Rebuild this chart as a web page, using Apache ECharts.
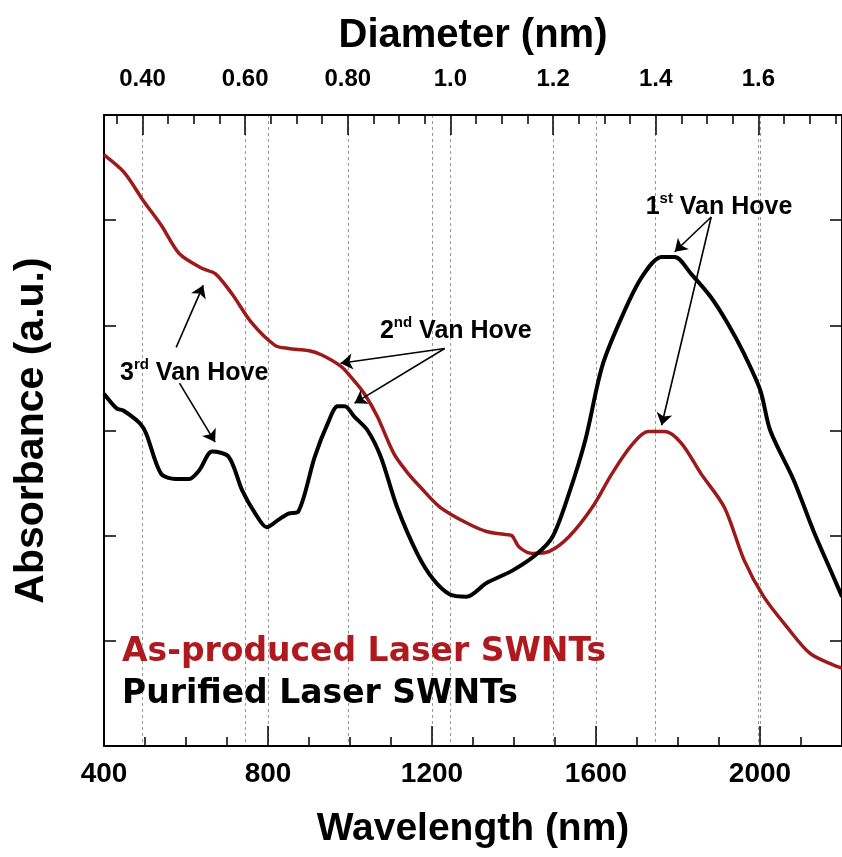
<!DOCTYPE html>
<html><head><meta charset="utf-8">
<script src="https://cdn.jsdelivr.net/npm/echarts@6/dist/echarts.min.js"></script>
<style>html,body{margin:0;padding:0;background:#fff}#c{width:842px;height:857px}</style>
</head><body><div id="c"></div>
<script>
// Wavelength (nm) and absorbance (a.u.)
const asProducedWavelength = [400,450,495,540,584,640,672,712,761,817,850,898,930,978,1002,1035,1067,1107,1140,1172,1220,1285,1333,1381,1395,1413,1446,1486,1534,1591,1639,1687,1727,1768,1808,1856,1913,1961,2009,2066,2122,2179,2200];
const asProducedAbsorbance = [5.62,5.45,5.19,4.95,4.68,4.54,4.49,4.30,4.02,3.81,3.78,3.76,3.72,3.61,3.51,3.35,3.13,2.78,2.60,2.46,2.27,2.12,2.04,2.01,2.00,1.89,1.83,1.85,1.99,2.27,2.59,2.86,2.99,2.99,2.88,2.59,2.27,1.77,1.42,1.13,0.88,0.77,0.74];
const purifiedWavelength = [400,431,447,487,503,539,575,608,632,664,704,737,769,797,825,850,874,914,946,970,987,1011,1043,1075,1115,1164,1204,1244,1284,1333,1397,1454,1494,1534,1574,1615,1663,1712,1760,1792,1832,1880,1921,1961,2001,2025,2082,2130,2179,2200];
const purifiedAbsorbance = [3.35,3.21,3.19,3.07,2.97,2.59,2.54,2.54,2.62,2.80,2.75,2.43,2.21,2.08,2.15,2.21,2.23,2.75,3.07,3.23,3.23,3.13,3.00,2.75,2.27,1.83,1.58,1.44,1.42,1.55,1.67,1.82,1.99,2.40,2.91,3.61,4.08,4.46,4.65,4.65,4.49,4.27,4.02,3.73,3.38,3.00,2.53,2.05,1.61,1.42];

const seriesNames = ['As-produced Laser SWNTs', 'Purified Laser SWNTs'];

// Top (diameter) axis
const diameterTicks = [0.4, 0.6, 0.8, 1.0, 1.2, 1.4, 1.6];
const diameterLabels = ['0.40', '0.60', '0.80', '1.0', '1.2', '1.4', '1.6'];
const diameterMinorTicks = [0.35, 0.45, 0.5, 0.55, 0.65, 0.7, 0.75, 0.85, 0.9, 0.95, 1.05, 1.1, 1.15, 1.25, 1.3, 1.35, 1.45, 1.5, 1.55, 1.65, 1.7, 1.75];

// Annotations: [wavelength, absorbance]
const vanHoveTexts = [
  { base: '3', sup: 'rd', at: [620, 3.56] },
  { base: '2', sup: 'nd', at: [1258, 3.96] },
  { base: '1', sup: 'st', at: [1900, 5.14] }
];
const vanHoveArrows = [
  [[576, 3.79], [642, 4.38]],
  [[584, 3.45], [671, 2.89]],
  [[1231, 3.78], [977, 3.64]],
  [[1231, 3.78], [1011, 3.26]],
  [[1881, 5.03], [1792, 4.70]],
  [[1881, 5.03], [1760, 3.05]]
];

const FONT = "'Liberation Sans', Arial, Helvetica, sans-serif";
const RED = '#9c1a1a';
const zip = (a, b) => a.map((v, i) => [v, b[i]]);

const chart = echarts.init(document.getElementById('c'), null, { renderer: 'canvas' });
const dash = { color: '#999', width: 1, type: [3, 3] };
const gridRect = { left: 104, right: -7, top: 115, bottom: 111, containLabel: false };
const tickLine = { color: '#000', width: 1.5 };

chart.setOption({
  animation: false,
  backgroundColor: '#fff',
  grid: [Object.assign({}, gridRect), Object.assign({}, gridRect)],
  legend: {
    orient: 'vertical', left: 112, top: 631, itemGap: 9, itemWidth: 0, itemHeight: 0,
    selectedMode: false,
    textStyle: { fontFamily: "'DejaVu Sans', sans-serif", fontWeight: 'bold', fontSize: 33 },
    data: [
      { name: seriesNames[0], icon: 'none', textStyle: { color: '#ae1a1f' } },
      { name: seriesNames[1], icon: 'none', textStyle: { color: '#000' } }
    ]
  },
  xAxis: [
    {
      gridIndex: 0, type: 'value', position: 'bottom', min: 400, max: 2200, interval: 400,
      name: 'Wavelength (nm)', nameLocation: 'middle', nameGap: 64,
      nameTextStyle: { fontFamily: FONT, fontWeight: 'bold', fontSize: 39, color: '#000' },
      axisLine: { onZero: false, lineStyle: { color: '#000', width: 2 } },
      axisTick: { inside: true, length: 20, lineStyle: tickLine },
      minorTick: { show: true, splitNumber: 4, length: 9, lineStyle: tickLine },
      axisLabel: { margin: 14, fontFamily: FONT, fontWeight: 'bold', fontSize: 28, color: '#000', showMaxLabel: false, formatter: v => String(v) },
      splitLine: { show: true, lineStyle: dash }
    },
    {
      gridIndex: 0, type: 'value', position: 'top', min: 0.325, max: 1.763,
      name: 'Diameter (nm)', nameLocation: 'middle', nameGap: 59,
      nameTextStyle: { fontFamily: FONT, fontWeight: 'bold', fontSize: 40, color: '#000' },
      axisLine: { onZero: false, lineStyle: { color: '#000', width: 2 } },
      axisTick: { inside: true, length: 20, customValues: diameterTicks, lineStyle: tickLine },
      axisLabel: {
        customValues: diameterTicks, margin: 24, fontFamily: FONT, fontWeight: 'bold', fontSize: 24, color: '#000',
        formatter: v => diameterLabels[diameterTicks.findIndex(t => Math.abs(t - v) < 1e-6)]
      },
      splitLine: { show: true, lineStyle: dash }
    },
    {
      gridIndex: 1, type: 'value', position: 'top', min: 0.325, max: 1.763,
      axisLine: { show: false, onZero: false },
      axisTick: { inside: true, length: 9, customValues: diameterMinorTicks, lineStyle: tickLine },
      axisLabel: { show: false },
      splitLine: { show: false }
    }
  ],
  yAxis: [
    {
      gridIndex: 0, type: 'value', position: 'left', min: 0, max: 6, interval: 1,
      name: 'Absorbance (a.u.)', nameLocation: 'middle', nameGap: 52,
      nameTextStyle: { fontFamily: FONT, fontWeight: 'bold', fontSize: 41, color: '#000' },
      axisLine: { show: true, onZero: false, lineStyle: { color: '#000', width: 2 } },
      axisTick: { show: true, inside: true, length: 12, lineStyle: tickLine },
      axisLabel: { show: false },
      splitLine: { show: false }
    },
    {
      gridIndex: 0, type: 'value', position: 'right', min: 0, max: 6, interval: 1,
      axisLine: { show: true, onZero: false, lineStyle: { color: '#000', width: 2 } },
      axisTick: { show: true, inside: true, length: 12, lineStyle: tickLine },
      axisLabel: { show: false },
      splitLine: { show: false }
    },
    {
      gridIndex: 1, type: 'value', min: 0, max: 6, show: false
    }
  ],
  series: [
    {
      name: seriesNames[0], type: 'line', xAxisIndex: 0, yAxisIndex: 0,
      data: zip(asProducedWavelength, asProducedAbsorbance),
      showSymbol: false, smooth: 0.3, color: RED,
      lineStyle: { color: RED, width: 3.5 }, z: 3
    },
    {
      name: seriesNames[1], type: 'line', xAxisIndex: 0, yAxisIndex: 0,
      data: zip(purifiedWavelength, purifiedAbsorbance),
      showSymbol: false, smooth: 0.3, color: '#000',
      lineStyle: { color: '#000', width: 4 }, z: 4,
      markLine: {
        silent: true, symbol: ['none', 'arrow'], symbolSize: 12,
        lineStyle: { color: '#000', width: 1.6, type: 'solid' },
        label: { show: false },
        data: vanHoveArrows.map(a => [{ coord: a[0] }, { coord: a[1] }])
      },
      markPoint: {
        silent: true, symbol: 'circle', symbolSize: 0,
        label: {
          show: true, position: 'inside',
          formatter: p => '{b|' + p.data.base + '}{s|' + p.data.sup + '}{b| Van Hove}',
          rich: {
            b: { fontFamily: FONT, fontWeight: 'bold', fontSize: 25, color: '#000', lineHeight: 28, verticalAlign: 'bottom' },
            s: { fontFamily: FONT, fontWeight: 'bold', fontSize: 15, color: '#000', lineHeight: 28, verticalAlign: 'top', padding: [0, 0, 11, 0] }
          }
        },
        data: vanHoveTexts.map(t => ({ coord: t.at, base: t.base, sup: t.sup }))
      }
    }
  ]
});
</script></body></html>
